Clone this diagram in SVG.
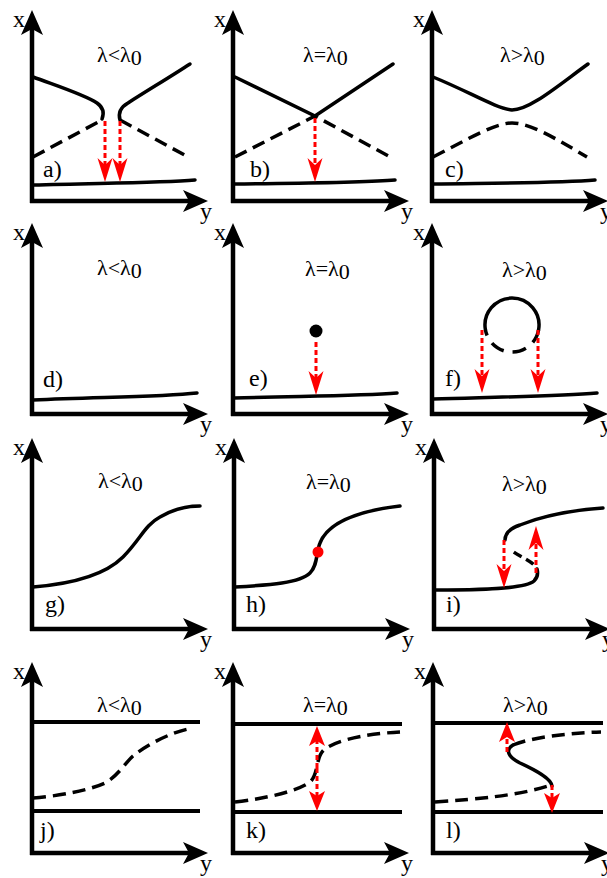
<svg xmlns="http://www.w3.org/2000/svg" width="607" height="878" viewBox="0 0 607 878">
<style>
.ax{fill:none;stroke:#000;stroke-width:4.5;marker-end:url(#ah)}
.c{fill:none;stroke:#000;stroke-width:3.5;stroke-linecap:round}
.d{fill:none;stroke:#000;stroke-width:3.5;stroke-dasharray:13 7}
.h{fill:none;stroke:#000;stroke-width:4}
.r{fill:none;stroke:#f00;stroke-width:3;stroke-dasharray:5 3;marker-end:url(#ra)}
.rs{fill:none;stroke:#f00;stroke-width:3;stroke-dasharray:5 3;marker-end:url(#rs)}
text{fill:#000;font-family:"Liberation Serif","Times New Roman","DejaVu Serif",serif}
.al{font-size:24px}
.pl{font-size:24px}
.lm{font-size:22px}
</style>
<defs>
<marker id="ah" markerUnits="userSpaceOnUse" markerWidth="30" markerHeight="24" viewBox="0 -12 26 24" refX="17" refY="0" orient="auto"><path d="M0,-11 L25,0 L0,11 L6,0 Z" fill="#000"/></marker>
<marker id="ra" markerUnits="userSpaceOnUse" markerWidth="26" markerHeight="18" viewBox="0 -9 25 18" refX="18" refY="0" orient="auto"><path d="M0,-7.5 L24,0 L0,7.5 L7,0 Z" fill="#f00"/></marker>
<marker id="rs" markerUnits="userSpaceOnUse" markerWidth="22" markerHeight="20" viewBox="0 -10 21 20" refX="14" refY="0" orient="auto"><path d="M0,-8 L20,0 L0,8 L5,0 Z" fill="#f00"/></marker>
</defs>

<g id="panel-a">
<path class="ax" d="M32,203 L32,18"/><path class="ax" d="M30,201 L200,201"/>
<text class="al" x="13" y="27">x</text><text class="al" x="200" y="219">y</text>
<text class="lm" x="97" y="62">λ&lt;λ<tspan dy="3">0</tspan></text>
<text class="pl" x="43" y="177">a)</text>
<path class="c" d="M33,77 C60,87 85,95 97,103 C104,108 104,114 102,119"/>
<path class="c" d="M120,120 C118,113 121,107 128,103 C145,92 170,77 190,64"/>
<path class="d" d="M33,157 L102,120"/><path class="d" d="M120,120 L190,158"/>
<path class="c" d="M33,185 C100,183 160,183 195,180"/>
</g>
<g id="panel-b">
<path class="ax" d="M233,203 L233,18"/><path class="ax" d="M231,201 L401,201"/>
<text class="al" x="214" y="27">x</text><text class="al" x="401" y="219">y</text>
<text class="lm" x="303" y="62">λ=λ<tspan dy="3">0</tspan></text>
<text class="pl" x="250" y="177">b)</text>
<path class="c" d="M235,77 L315,116 L393,64"/>
<path class="d" d="M235,157 L315,116 L392,158"/>
<path class="c" d="M235,184 C300,183 360,183 395,180"/>
</g>
<g id="panel-c">
<path class="ax" d="M432,203 L432,18"/><path class="ax" d="M430,201 L600,201"/>
<text class="al" x="413" y="27">x</text><text class="al" x="600" y="219">y</text>
<text class="lm" x="500" y="62">λ&gt;λ<tspan dy="3">0</tspan></text>
<text class="pl" x="445" y="177">c)</text>
<path class="c" d="M433,77 C470,92 495,108 512,110 C530,110 560,84 588,64"/>
<path class="d" d="M433,157 C470,138 495,123 512,123 C530,123 555,138 587,157"/>
<path class="c" d="M433,184 C500,183 560,183 595,180"/>
</g>

<g id="panel-d">
<path class="ax" d="M32,416 L32,231"/><path class="ax" d="M30,414 L200,414"/>
<text class="al" x="13" y="240">x</text><text class="al" x="200" y="432">y</text>
<text class="lm" x="97" y="275">λ&lt;λ<tspan dy="3">0</tspan></text>
<text class="pl" x="43" y="387">d)</text>
<path class="c" d="M33,400 C100,397 160,397 197,393"/>
</g>
<g id="panel-e">
<path class="ax" d="M233,416 L233,231"/><path class="ax" d="M231,414 L401,414"/>
<text class="al" x="214" y="240">x</text><text class="al" x="401" y="432">y</text>
<text class="lm" x="305" y="276">λ=λ<tspan dy="3">0</tspan></text>
<text class="pl" x="249" y="386">e)</text>
<path class="c" d="M234,398 C300,396 360,396 397,393"/>
<circle cx="316" cy="331" r="6.5" fill="#000"/>
</g>
<g id="panel-f">
<path class="ax" d="M432,416 L432,231"/><path class="ax" d="M430,414 L600,414"/>
<text class="al" x="413" y="240">x</text><text class="al" x="600" y="432">y</text>
<text class="lm" x="502" y="277">λ&gt;λ<tspan dy="3">0</tspan></text>
<text class="pl" x="445" y="386">f)</text>
<path class="c" d="M433,399 C500,397 560,396 597,393"/>
<path class="c" d="M485.4,329.7 A27,27 0 1 1 538.6,329.7"/>
<path class="d" d="M538.6,329.7 A27,27 0 0 1 485.4,329.7" style="stroke-dasharray:14 9"/>
</g>

<g id="panel-g">
<path class="ax" d="M32,631 L32,446"/><path class="ax" d="M30,629 L200,629"/>
<text class="al" x="13" y="455">x</text><text class="al" x="200" y="647">y</text>
<text class="lm" x="98" y="488">λ&lt;λ<tspan dy="3">0</tspan></text>
<text class="pl" x="45" y="612">g)</text>
<path class="c" d="M33,587 C70,584 105,575 123,557 C140,540 145,525 160,517 C175,508 190,506 200,506"/>
</g>
<g id="panel-h">
<path class="ax" d="M234,631 L234,446"/><path class="ax" d="M232,629 L402,629"/>
<text class="al" x="215" y="455">x</text><text class="al" x="402" y="647">y</text>
<text class="lm" x="306" y="489">λ=λ<tspan dy="3">0</tspan></text>
<text class="pl" x="246" y="612">h)</text>
<path class="c" d="M235,587 C270,585 300,583 310,573 C318,565 316,552 320,543 C327,525 350,512 400,506"/>
<circle cx="318" cy="552" r="5.5" fill="#f00"/>
</g>
<g id="panel-i">
<path class="ax" d="M434,631 L434,446"/><path class="ax" d="M432,629 L602,629"/>
<text class="al" x="415" y="455">x</text><text class="al" x="602" y="647">y</text>
<text class="lm" x="502" y="491">λ&gt;λ<tspan dy="3">0</tspan></text>
<text class="pl" x="446" y="612">i)</text>
<path class="c" d="M435,590 C480,590 525,589 534,581 Q539,576 537,569"/>
<path class="d" d="M537,569 C533,560 516,556 509,548" style="stroke-dasharray:0 6 9 5 9 40"/>
<path class="c" d="M505,540 Q505,530 520,525 C545,515 575,510 603,508"/>
</g>

<g id="panel-j">
<path class="ax" d="M32,855 L32,670"/><path class="ax" d="M30,853 L200,853"/>
<text class="al" x="13" y="679">x</text><text class="al" x="200" y="871">y</text>
<text class="lm" x="97" y="712">λ&lt;λ<tspan dy="3">0</tspan></text>
<text class="pl" x="40" y="838">j)</text>
<path class="h" d="M32,722 L200,722"/><path class="h" d="M32,811 L200,811"/>
<path class="d" d="M33,798 C60,796 90,790 105,783 C118,776 125,763 133,756 C148,744 170,733 188,729"/>
</g>
<g id="panel-k">
<path class="ax" d="M233,855 L233,670"/><path class="ax" d="M231,853 L401,853"/>
<text class="al" x="214" y="679">x</text><text class="al" x="401" y="871">y</text>
<text class="lm" x="303" y="712">λ=λ<tspan dy="3">0</tspan></text>
<text class="pl" x="246" y="838">k)</text>
<path class="h" d="M233,724 L402,724"/><path class="h" d="M233,812 L402,812"/>
<path class="d" d="M235,802 C270,798 300,790 310,782 C318,775 316,760 322,752 C330,742 360,734 400,732"/>
</g>
<g id="panel-l">
<path class="ax" d="M433,855 L433,670"/><path class="ax" d="M431,853 L601,853"/>
<text class="al" x="414" y="679">x</text><text class="al" x="601" y="871">y</text>
<text class="lm" x="503" y="712">λ&gt;λ<tspan dy="3">0</tspan></text>
<text class="pl" x="446" y="838">l)</text>
<path class="h" d="M433,723 L603,723"/><path class="h" d="M433,812 L603,812"/>
<path class="d" d="M435,802 C480,799 520,795 548,786"/>
<path class="c" d="M552,786 C551,778 535,770 520,763 C508,757 505,750 513,745"/>
<path class="d" d="M513,745 C530,738 565,733 601,732"/>
</g>

<g id="connectors">
<path class="r" d="M105,121 L105,176"/>
<path class="r" d="M120,121 L120,176"/>
<path class="r" d="M315,118 L315,176"/>
<path class="r" d="M316,342 L316,389"/>
<path class="r" d="M482,330 L482,387"/>
<path class="r" d="M538,330 L538,387"/>
<path class="r" d="M504,540 L504,582"/>
<path class="r" d="M536,573 L536,532"/>
<path class="rs" d="M317,768 L317,732"/>
<path class="rs" d="M317,768 L317,805"/>
<path class="rs" d="M507,752 L507,728"/>
<path class="rs" d="M552,785 L552,807"/>
</g>
</svg>
